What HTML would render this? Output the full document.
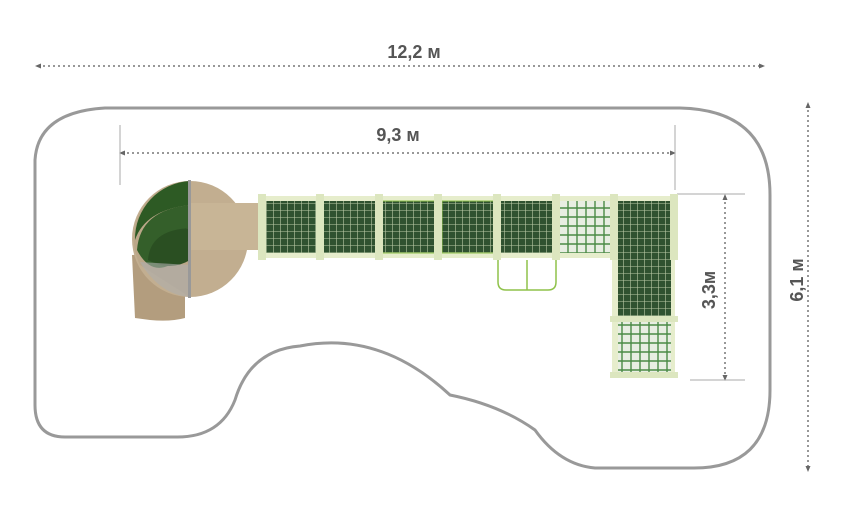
<!DOCTYPE html><html><head><style>body{margin:0;background:#fff}svg{display:block}text{font-family:"Liberation Sans",sans-serif;fill:#555;font-size:18px;font-weight:bold}</style></head><body>
<svg width="850" height="530" viewBox="0 0 850 530" xmlns="http://www.w3.org/2000/svg">
<defs>
<pattern id="dk" width="7" height="7" patternUnits="userSpaceOnUse"><rect width="7" height="7" fill="#2f5230"/><path d="M0 0.5H7M0.5 0V7" stroke="#b9c9a6" stroke-width="0.6"/></pattern>
<pattern id="lt" width="9" height="9" patternUnits="userSpaceOnUse"><rect width="9" height="9" fill="#e8eee2"/><path d="M0 1H9M1 0V9" stroke="#4a8a45" stroke-width="1.4"/></pattern>
<marker id="a" markerWidth="6" markerHeight="6" refX="3" refY="3" orient="auto-start-reverse" markerUnits="userSpaceOnUse"><path d="M0,0.5 L6,3 L0,5.5z" fill="#666"/></marker>
</defs>
<path d="M105 108 H680 Q770 110 770 195 V390 Q770 470 690 468 H595 Q560 465 535 430 Q500 405 450 395 Q380 330 300 346 Q250 350 235 400 Q220 438 175 437 H65 Q35 437 35 405 V160 Q38 112 105 108Z" fill="none" stroke="#999" stroke-width="3"/>
<g stroke="#777" stroke-width="1.5" stroke-dasharray="2 3" fill="none">
<line x1="38" y1="66" x2="762" y2="66" marker-start="url(#a)" marker-end="url(#a)"/>
<line x1="122" y1="153" x2="673" y2="153" marker-start="url(#a)" marker-end="url(#a)"/>
<line x1="725" y1="197" x2="725" y2="378" marker-start="url(#a)" marker-end="url(#a)"/>
<line x1="808" y1="105" x2="808" y2="469" marker-start="url(#a)" marker-end="url(#a)"/>
</g>
<g stroke="#aaa" stroke-width="1"><line x1="120" y1="125" x2="120" y2="185"/><line x1="675" y1="125" x2="675" y2="190"/><line x1="677" y1="194" x2="745" y2="194"/><line x1="690" y1="380" x2="745" y2="380"/></g>
<text x="414" y="58" text-anchor="middle">12,2 м</text>
<text x="398" y="141" text-anchor="middle">9,3 м</text>
<text transform="translate(715,290) rotate(-90)" text-anchor="middle">3,3м</text>
<text transform="translate(803,280) rotate(-90)" text-anchor="middle">6,1 м</text>
<!-- slide -->
<path d="M132 255 L185 252 L185 318 Q170 322 150 320 L135 318 Z" fill="#b39d7e"/>
<circle cx="190" cy="239" r="58" fill="#c2ae90"/>
<path d="M190 181 A58 58 0 0 0 140 265 L190 297 Z" fill="#bba789"/>
<path d="M190 181 A58 58 0 0 0 135 240 Q145 210 190 205 Z" fill="#2d5a24"/>
<path d="M190 205 Q140 210 137 250 Q150 275 170 265 Q160 230 190 228 Z" fill="#345f2a"/>
<path d="M190 228 Q150 230 148 260 Q170 272 190 260Z" fill="#2a4f22"/>
<path d="M140 262 Q160 295 190 297 V265 Z" fill="#aeaeae" opacity="0.6"/>
<rect x="190" y="203" width="72" height="47" fill="#c8b596"/>
<rect x="188" y="180" width="3" height="118" fill="#999"/>
<!-- platforms -->
<rect x="262" y="196" width="413" height="62" fill="#e6edcc"/>
<rect x="266" y="201" width="52" height="52" fill="url(#dk)"/>
<rect x="324" y="201" width="52" height="52" fill="url(#dk)"/>
<rect x="382" y="201" width="54" height="52" fill="url(#dk)" stroke="#8fc24a"/>
<rect x="442" y="201" width="52" height="52" fill="url(#dk)" stroke="#8fc24a"/>
<rect x="500" y="201" width="54" height="52" fill="url(#dk)"/>
<rect x="560" y="201" width="52" height="52" fill="url(#lt)"/>
<rect x="612" y="196" width="63" height="182" fill="#e6edcc"/>
<rect x="618" y="201" width="53" height="116" fill="url(#dk)"/>
<rect x="618" y="322" width="53" height="52" fill="url(#lt)"/>
<g fill="#dce6bf"><rect x="316" y="194" width="8" height="66"/><rect x="375" y="194" width="8" height="66"/><rect x="434" y="194" width="8" height="66"/><rect x="493" y="194" width="8" height="66"/><rect x="552" y="194" width="8" height="66"/><rect x="610" y="194" width="8" height="66"/><rect x="670" y="194" width="8" height="66"/><rect x="258" y="194" width="8" height="66"/><rect x="610" y="316" width="68" height="6"/><rect x="610" y="372" width="68" height="6"/></g>
<path d="M498 260 V282 Q498 290 506 290 H548 Q556 290 556 282 V260 M527 260 V290" fill="none" stroke="#8fc24a" stroke-width="1.5"/>
</svg>
</body></html>
